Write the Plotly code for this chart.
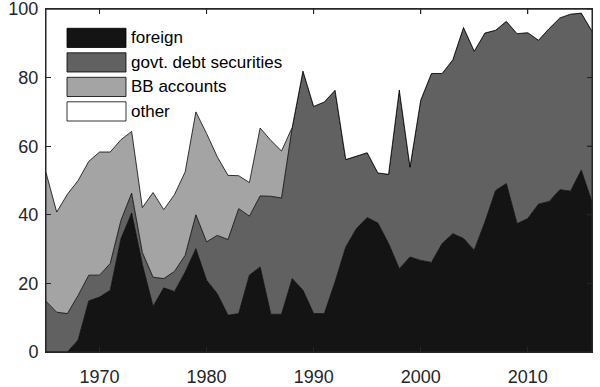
import plotly.graph_objects as go

years = list(range(1965, 2017))

foreign = [0, 0, 0, 3.5, 14.9, 16.0, 18.0, 33.0, 40.5, 25.5,
           13.3, 18.7, 17.6, 23.3, 30.1, 20.9, 17.0, 10.7, 11.2, 22.4,
           24.8, 11.0, 11.0, 21.4, 18.0, 11.2, 11.2, 20.4, 30.6, 36.0,
           39.2, 37.6, 31.6, 24.3, 27.7, 26.7, 26.1, 31.6, 34.5, 33.1,
           29.7, 37.9, 47.1, 49.1, 37.4, 38.9, 43.1, 43.9, 47.3, 46.9,
           53.0, 43.7]

govt_debt = [14.8, 11.6, 11.2, 13.0, 7.5, 6.4, 7.8, 5.4, 5.8, 3.5,
             8.5, 2.7, 5.9, 4.9, 9.9, 11.2, 17.0, 22.1, 30.6, 17.2,
             20.7, 34.4, 33.9, 44.1, 63.9, 60.4, 61.7, 55.9, 25.5, 21.1,
             18.9, 14.6, 20.2, 52.1, 26.2, 46.7, 55.1, 49.6, 50.7, 61.5,
             58.0, 55.1, 46.7, 47.3, 55.4, 54.2, 47.8, 50.4, 50.1, 51.6,
             45.8, 49.8]

bb_accounts = [37.5, 29.2, 34.8, 33.5, 33.2, 35.9, 32.5, 23.5, 18.0, 13.1,
               24.7, 20.1, 22.4, 24.3, 30.0, 31.6, 22.9, 18.7, 9.6, 9.8,
               19.8, 16.3, 13.7, 0, 0, 0, 0, 0, 0, 0,
               0, 0, 0, 0, 0, 0, 0, 0, 0, 0,
               0, 0, 0, 0, 0, 0, 0, 0, 0, 0,
               0, 0]

other = [47.7, 59.2, 54.0, 50.0, 44.4, 41.7, 41.7, 38.1, 35.7, 57.9,
         53.5, 58.5, 54.1, 47.5, 30.0, 36.3, 43.1, 48.5, 48.6, 50.6,
         34.7, 38.3, 41.4, 34.5, 18.1, 28.4, 27.1, 23.7, 43.9, 42.9,
         41.9, 47.8, 48.2, 23.6, 46.1, 26.6, 18.8, 18.8, 14.8, 5.4,
         12.3, 7.0, 6.2, 3.6, 7.2, 6.9, 9.1, 5.7, 2.6, 1.5,
         1.2, 6.5]

series_names = ["foreign", "govt. debt securities", "BB accounts", "other"]
series_values = [foreign, govt_debt, bb_accounts, other]
series_colors = ["#141414", "#616161", "#a4a4a4", "#ffffff"]

x_ticks = [1970, 1980, 1990, 2000, 2010]
y_ticks = [0, 20, 40, 60, 80, 100]

FONT = "Liberation Sans, Arial, Helvetica, sans-serif"
TXT = "#262626"

fig = go.Figure()
for name, vals, col in zip(series_names, series_values, series_colors):
    fig.add_trace(go.Scatter(
        x=years, y=vals, name=name, mode="lines",
        stackgroup="one", line=dict(color="#000000", width=0.8),
        fillcolor=col, showlegend=False, hoverinfo="x+y+name"))

W, H = 600, 387
ml, mr, mt, mb = 46, 8, 9, 35
pw, ph = W - ml - mr, H - mt - mb
TL = 5  # tick length, px


def px(x):
    return (x - ml) / pw


def py(y):
    return (H - mb - y) / ph


shapes = []
annotations = []

# manual MATLAB-style legend
for i, (name, col) in enumerate(zip(series_names, series_colors)):
    top = 28.3 + i * 24.5
    bot = top + 19.2
    shapes.append(dict(type="rect", xref="paper", yref="paper",
                       x0=px(67), x1=px(126), y0=py(bot), y1=py(top),
                       fillcolor=col, line=dict(color="#000000", width=0.8),
                       layer="above"))
    annotations.append(dict(xref="paper", yref="paper", x=px(129),
                            y=py((top + bot) / 2), text=name, showarrow=False,
                            xanchor="left", yanchor="middle",
                            font=dict(family=FONT, size=17, color="#000000")))

# box frame and mirrored ticks (top / right)
shapes.append(dict(type="rect", xref="paper", yref="paper", x0=0, x1=1, y0=0, y1=1,
                   line=dict(color=TXT, width=1), layer="above"))
for t in x_ticks:
    shapes.append(dict(type="line", xref="x", yref="paper", x0=t, x1=t,
                       y0=1, y1=1 - TL / ph, line=dict(color=TXT, width=1),
                       layer="above"))
for t in y_ticks:
    shapes.append(dict(type="line", xref="paper", yref="y", x0=1, x1=1 - TL / pw,
                       y0=t, y1=t, line=dict(color=TXT, width=1),
                       layer="above"))

axis_common = dict(showline=True, linecolor=TXT, linewidth=1, mirror="ticks",
                   ticks="inside", ticklen=TL, tickcolor=TXT, tickwidth=1,
                   showgrid=False, zeroline=False, automargin=False,
                   ticklabeloverflow="allow",
                   tickfont=dict(family=FONT, size=18, color=TXT))

fig.update_layout(
    width=W, height=H,
    margin=dict(l=ml, r=mr, t=mt, b=mb),
    paper_bgcolor="white", plot_bgcolor="white",
    xaxis=dict(range=[1965, 2016], tickvals=x_ticks, ticklabelstandoff=8,
               **axis_common),
    yaxis=dict(range=[0, 100], tickvals=y_ticks, ticklabelstandoff=3,
               **axis_common),
    shapes=shapes, annotations=annotations,
)

fig.write_html("out.html", config={"displayModeBar": False},
               post_script="document.body.style.margin='0';document.body.style.overflow='hidden';")
